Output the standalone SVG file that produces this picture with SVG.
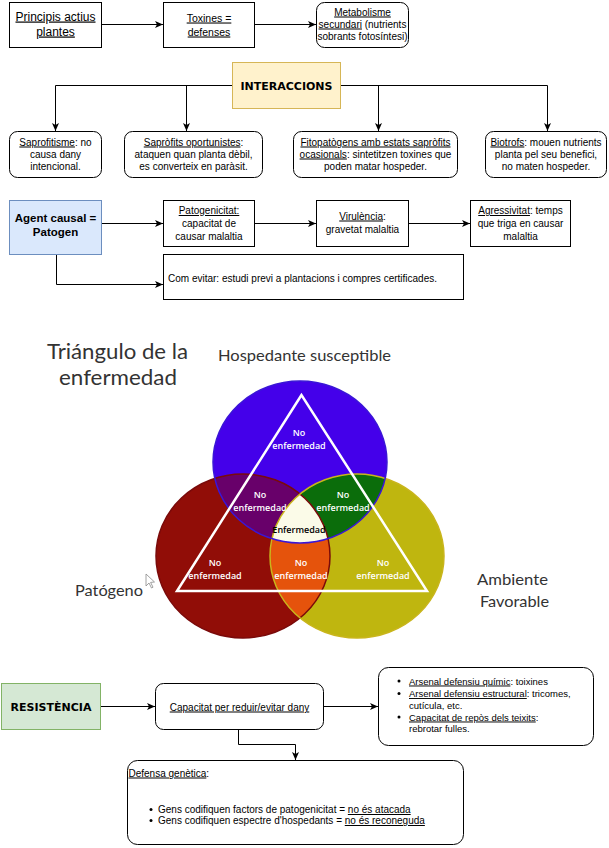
<svg xmlns="http://www.w3.org/2000/svg" width="609" height="848" viewBox="0 0 609 848">
<defs>
<style>
.box{fill:#fff;stroke:#000;stroke-width:1}
.t{font-family:"Liberation Sans",Arial,sans-serif;font-size:10px;fill:#000;text-anchor:middle}
.l{text-anchor:start}
.u{text-decoration:underline}
.b{font-family:"DejaVu Sans",Verdana,sans-serif;font-weight:bold;font-size:11px;fill:#000;text-anchor:middle}
.edge{fill:none;stroke:#000;stroke-width:1}
.vl{font-family:"Open Sans","DejaVu Sans",sans-serif;font-weight:600;font-size:9px;fill:#fff;text-anchor:middle}
.big{font-family:Lato,"Open Sans",sans-serif;fill:#333}
</style>
<marker id="arr" viewBox="0 0 8 8" refX="8" refY="4" markerWidth="8" markerHeight="8" markerUnits="userSpaceOnUse" orient="auto">
<path d="M0,0.5 L8,4 L0,7.5 L2,4 z" fill="#000"/>
</marker>
<clipPath id="cb"><ellipse cx="300" cy="462" rx="87" ry="81"/></clipPath>
<clipPath id="cr"><ellipse cx="243" cy="556" rx="87" ry="82"/></clipPath>
</defs>
<rect width="609" height="848" fill="#fff"/>

<!-- connectors -->
<g id="connectors" class="edge">
<path d="M102 24.5 H163" marker-end="url(#arr)"/>
<path d="M255 24.5 H316" marker-end="url(#arr)"/>
<path d="M232 85.5 H55.5 V131" marker-end="url(#arr)"/>
<path d="M232 85.5 H186.5 V131" marker-end="url(#arr)"/>
<path d="M340 85.5 H378.5 V131" marker-end="url(#arr)"/>
<path d="M340 85.5 H547.5 V131" marker-end="url(#arr)"/>
<path d="M102 223.5 H163" marker-end="url(#arr)"/>
<path d="M255 223.5 H316" marker-end="url(#arr)"/>
<path d="M409 223.5 H470" marker-end="url(#arr)"/>
<path d="M56.5 255 V284.5 H163" marker-end="url(#arr)"/>
<path d="M101 706.5 H155" marker-end="url(#arr)"/>
<path d="M324 706.5 H378" marker-end="url(#arr)"/>
<path d="M238.5 730 V744.5 H295.5 V760" marker-end="url(#arr)"/>
</g>

<!-- top row -->
<g id="principis">
<rect class="box" x="9.5" y="2.5" width="92" height="45"/>
<text class="t u" style="font-size:12px" x="55.5" y="20.5">Principis actius</text>
<text class="t u" style="font-size:12px" x="55.5" y="35.5">plantes</text>
</g>
<g id="toxines">
<rect class="box" x="163.5" y="2.5" width="91" height="45"/>
<text class="t u" style="font-size:10.5px" x="209" y="21.5">Toxines =</text>
<text class="t u" style="font-size:10.5px" x="209" y="35.5">defenses</text>
</g>
<g id="metabolisme">
<rect class="box" x="316.5" y="2.5" width="92" height="45" rx="8"/>
<text class="t" x="362.5" y="15.5"><tspan class="u">Metabolisme</tspan></text>
<text class="t" x="362.5" y="27.5"><tspan class="u">secundari</tspan> (nutrients</text>
<text class="t" x="362.5" y="39.5">sobrants fotosíntesi)</text>
</g>

<!-- interaccions -->
<g id="interaccions">
<rect x="232.5" y="62.5" width="108" height="46" fill="#fff2cc" stroke="#d6b656"/>
<text class="b" x="286.5" y="89.5">INTERACCIONS</text>
</g>
<g id="saprofitisme">
<rect class="box" x="9.5" y="131.5" width="92" height="46" rx="8"/>
<text class="t" x="55.5" y="145.5"><tspan class="u">Saprofitisme</tspan>: no</text>
<text class="t" x="55.5" y="157.5">causa dany</text>
<text class="t" x="55.5" y="169.5">intencional.</text>
</g>
<g id="oportunistes">
<rect class="box" x="124.5" y="131.5" width="138" height="46" rx="8"/>
<text class="t" x="193.5" y="145.5"><tspan class="u">Sapròfits oportunistes</tspan>:</text>
<text class="t" x="193.5" y="157.5">ataquen quan planta dèbil,</text>
<text class="t" x="193.5" y="169.5">es converteix en paràsit.</text>
</g>
<g id="fitopatogens">
<rect class="box" x="293.5" y="131.5" width="164" height="46" rx="8"/>
<text class="t" x="375.5" y="145.5"><tspan class="u">Fitopatògens amb estats sapròfits</tspan></text>
<text class="t" x="375.5" y="157.5"><tspan class="u">ocasionals</tspan>: sintetitzen toxines que</text>
<text class="t" x="375.5" y="169.5">poden matar hospeder.</text>
</g>
<g id="biotrofs">
<rect class="box" x="485.5" y="131.5" width="121" height="46" rx="8"/>
<text class="t" x="546" y="145.5"><tspan class="u">Biotrofs</tspan>: mouen nutrients</text>
<text class="t" x="546" y="157.5">planta pel seu benefici,</text>
<text class="t" x="546" y="169.5">no maten hospeder.</text>
</g>

<!-- agent causal row -->
<g id="agent">
<rect x="9.5" y="200.5" width="92" height="54" fill="#dae8fc" stroke="#6c8ebf"/>
<text class="t" style="font-weight:bold;font-size:11.5px" x="55.5" y="222">Agent causal =</text>
<text class="t" style="font-weight:bold;font-size:11.5px" x="55.5" y="236">Patogen</text>
</g>
<g id="patogenicitat">
<rect class="box" x="163.5" y="200.5" width="91" height="46"/>
<text class="t" x="209" y="214"><tspan class="u">Patogenicitat:</tspan></text>
<text class="t" x="209" y="227">capacitat de</text>
<text class="t" x="209" y="240">causar malaltia</text>
</g>
<g id="virulencia">
<rect class="box" x="316.5" y="200.5" width="92" height="46"/>
<text class="t" x="362.5" y="219.5"><tspan class="u">Virulència</tspan>:</text>
<text class="t" x="362.5" y="233">gravetat malaltia</text>
</g>
<g id="agressivitat">
<rect class="box" x="470.5" y="200.5" width="100" height="46"/>
<text class="t" x="520.5" y="214"><tspan class="u">Agressivitat</tspan>: temps</text>
<text class="t" x="520.5" y="227">que triga en causar</text>
<text class="t" x="520.5" y="240">malaltia</text>
</g>
<g id="comevitar">
<rect class="box" x="163.5" y="254.5" width="300" height="45"/>
<text class="t l" x="168" y="281.5">Com evitar: estudi previ a plantacions i compres certificades.</text>
</g>

<!-- triangle of disease (picture) -->
<g id="triangulo">
<text class="big" x="47" y="359" style="font-size:22px" textLength="141" lengthAdjust="spacingAndGlyphs">Triángulo de la</text>
<text class="big" x="59" y="385" style="font-size:22px" textLength="118" lengthAdjust="spacingAndGlyphs">enfermedad</text>
<text class="big" x="218" y="361" style="font-size:15px" textLength="173" lengthAdjust="spacingAndGlyphs">Hospedante susceptible</text>
<text class="big" x="75" y="596" style="font-size:15px" textLength="68" lengthAdjust="spacingAndGlyphs">Patógeno</text>
<text class="big" x="477" y="585" style="font-size:15px" textLength="71" lengthAdjust="spacingAndGlyphs">Ambiente</text>
<text class="big" x="480" y="607" style="font-size:15px" textLength="69" lengthAdjust="spacingAndGlyphs">Favorable</text>
<path d="M146 574 L146 586 L149 583 L151.5 588 L153 587.2 L150.6 582.4 L154.5 582 Z" fill="#fff" stroke="#8a8a8a" stroke-width="0.8"/>

<ellipse cx="243" cy="556" rx="87" ry="82" fill="#910d07"/>
<ellipse cx="357" cy="556" rx="87" ry="82" fill="#bfb60f"/>
<ellipse cx="300" cy="462" rx="87" ry="81" fill="#4400ea"/>
<g clip-path="url(#cb)"><ellipse cx="243" cy="556" rx="87" ry="82" fill="#68006a"/></g>
<g clip-path="url(#cb)"><ellipse cx="357" cy="556" rx="87" ry="82" fill="#0b6d0b"/></g>
<g clip-path="url(#cr)"><ellipse cx="357" cy="556" rx="87" ry="82" fill="#e5530c"/></g>
<g clip-path="url(#cb)"><g clip-path="url(#cr)"><ellipse cx="357" cy="556" rx="87" ry="82" fill="#fbfbe8"/></g></g>
<ellipse cx="243" cy="556" rx="87" ry="82" fill="none" stroke="#7a0a0a" stroke-width="1.5"/>
<ellipse cx="357" cy="556" rx="87" ry="82" fill="none" stroke="#c9b51c" stroke-width="1.5"/>
<ellipse cx="300" cy="462" rx="87" ry="81" fill="none" stroke="#3a16d6" stroke-width="1.5"/>
<polygon points="301.5,395 177,591 427,591" fill="none" stroke="#fff" stroke-width="2.5"/>

<text class="vl" x="299" y="436">No</text>
<text class="vl" x="299" y="449">enfermedad</text>
<text class="vl" x="260" y="498">No</text>
<text class="vl" x="260" y="511">enfermedad</text>
<text class="vl" x="343" y="498">No</text>
<text class="vl" x="343" y="511">enfermedad</text>
<text class="vl" style="fill:#000" x="299" y="532.5">Enfermedad</text>
<text class="vl" x="215" y="566">No</text>
<text class="vl" x="215" y="579">enfermedad</text>
<text class="vl" x="301" y="566">No</text>
<text class="vl" x="301" y="579">enfermedad</text>
<text class="vl" x="383" y="566">No</text>
<text class="vl" x="383" y="579">enfermedad</text>
</g>

<!-- resistencia -->
<g id="resistencia">
<rect x="1.5" y="683.5" width="99" height="46" fill="#d5e8d4" stroke="#82b366"/>
<text class="b" x="51" y="710.5">RESISTÈNCIA</text>
</g>
<g id="capacitat">
<rect class="box" x="155.5" y="683.5" width="168" height="46" rx="8"/>
<text class="t u" x="239.5" y="710.5">Capacitat per reduir/evitar dany</text>
</g>
<g id="arsenal">
<rect class="box" x="378.5" y="667.5" width="215" height="78" rx="10"/>
<circle cx="399" cy="681" r="1.5"/>
<circle cx="399" cy="693.5" r="1.5"/>
<circle cx="399" cy="717" r="1.5"/>
<text class="t l" style="font-size:9.5px" x="409" y="684.5"><tspan class="u">Arsenal defensiu químic</tspan>: toixines</text>
<text class="t l" style="font-size:9.5px" x="409" y="697"><tspan class="u">Arsenal defensiu estructural</tspan>: tricomes,</text>
<text class="t l" style="font-size:9.5px" x="409" y="708.5">cutícula, etc.</text>
<text class="t l" style="font-size:9.5px" x="409" y="720.5"><tspan class="u">Capacitat de repòs dels teixits</tspan>:</text>
<text class="t l" style="font-size:9.5px" x="409" y="731.5">rebrotar fulles.</text>
</g>
<g id="defensa">
<rect class="box" x="127.5" y="760.5" width="336" height="84" rx="10"/>
<text class="t l" x="128.5" y="776.5"><tspan class="u">Defensa genètica</tspan>:</text>
<circle cx="151" cy="809.5" r="1.5"/>
<circle cx="151" cy="820.5" r="1.5"/>
<text class="t l" x="158" y="813">Gens codifiquen factors de patogenicitat = <tspan class="u">no és atacada</tspan></text>
<text class="t l" x="158" y="824">Gens codifiquen espectre d'hospedants = <tspan class="u">no és reconeguda</tspan></text>
</g>
</svg>
